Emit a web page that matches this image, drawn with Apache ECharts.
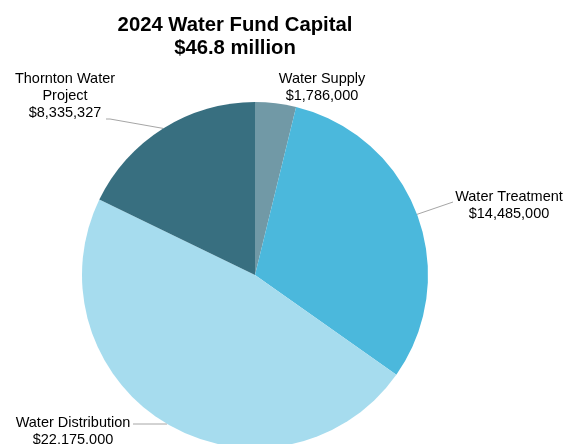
<!DOCTYPE html>
<html>
<head>
<meta charset="utf-8">
<script src="https://cdn.jsdelivr.net/npm/echarts@6/dist/echarts.min.js"></script>
<style>
  html, body { margin: 0; padding: 0; background: #ffffff; }
  #chart { width: 566px; height: 444px; }
</style>
</head>
<body>
<div id="chart"></div>
<script>
// Capital budget by program, dollars
const categories = ['Water Supply', 'Water Treatment', 'Water Distribution', 'Thornton Water\nProject'];
const amounts = [1786000, 14485000, 22175000, 8335327];
const sliceColors = ['#7199a6', '#4bb8dc', '#a6dcee', '#386f80'];
const titleLines = ['2024 Water Fund Capital', '$46.8 million'];

// Where each label block sits (center x, center y) and where its leader meets it
const labelSpots = [
  { x: 322, y: 87, line: null },
  { x: 509, y: 205, line: [[453, 202], [453, 202]] },
  { x: 73, y: 431, line: [[152, 424], [133, 424]] },
  { x: 65, y: 96, line: [[110, 119], [106, 119]] }
];

const fmt = v => '$' + v.toLocaleString('en-US');

const chart = echarts.init(document.getElementById('chart'), null, { renderer: 'canvas' });

chart.setOption({
  animation: false,
  backgroundColor: '#ffffff',
  title: {
    text: titleLines.join('\n'),
    left: 230,
    top: 9,
    textAlign: 'center',
    textStyle: {
      fontFamily: 'Liberation Sans, Arial, sans-serif',
      fontSize: 20.3,
      fontWeight: 'bold',
      color: '#000000',
      lineHeight: 23
    }
  },
  series: [{
    type: 'pie',
    center: [255, 275],
    radius: 173,
    startAngle: 90,
    clockwise: true,
    silent: true,
    avoidLabelOverlap: false,
    itemStyle: { borderWidth: 0 },
    label: {
      show: true,
      position: 'outside',
      formatter: p => p.name + '\n' + fmt(p.value),
      fontFamily: 'Liberation Sans, Arial, sans-serif',
      fontSize: 14.5,
      lineHeight: 17,
      color: '#000000',
      align: 'center'
    },
    labelLine: {
      show: true,
      lineStyle: { color: '#a6a6a6', width: 1 }
    },
    labelLayout: function (params) {
      const spot = labelSpots[params.dataIndex];
      const out = { x: spot.x, y: spot.y, align: 'center', verticalAlign: 'middle' };
      if (spot.line && params.labelLinePoints) {
        out.labelLinePoints = [params.labelLinePoints[0]].concat(spot.line);
      }
      return out;
    },
    data: categories.map((name, i) => ({
      name: name,
      value: amounts[i],
      itemStyle: { color: sliceColors[i] },
      labelLine: { show: labelSpots[i].line !== null }
    }))
  }]
});
</script>
</body>
</html>
